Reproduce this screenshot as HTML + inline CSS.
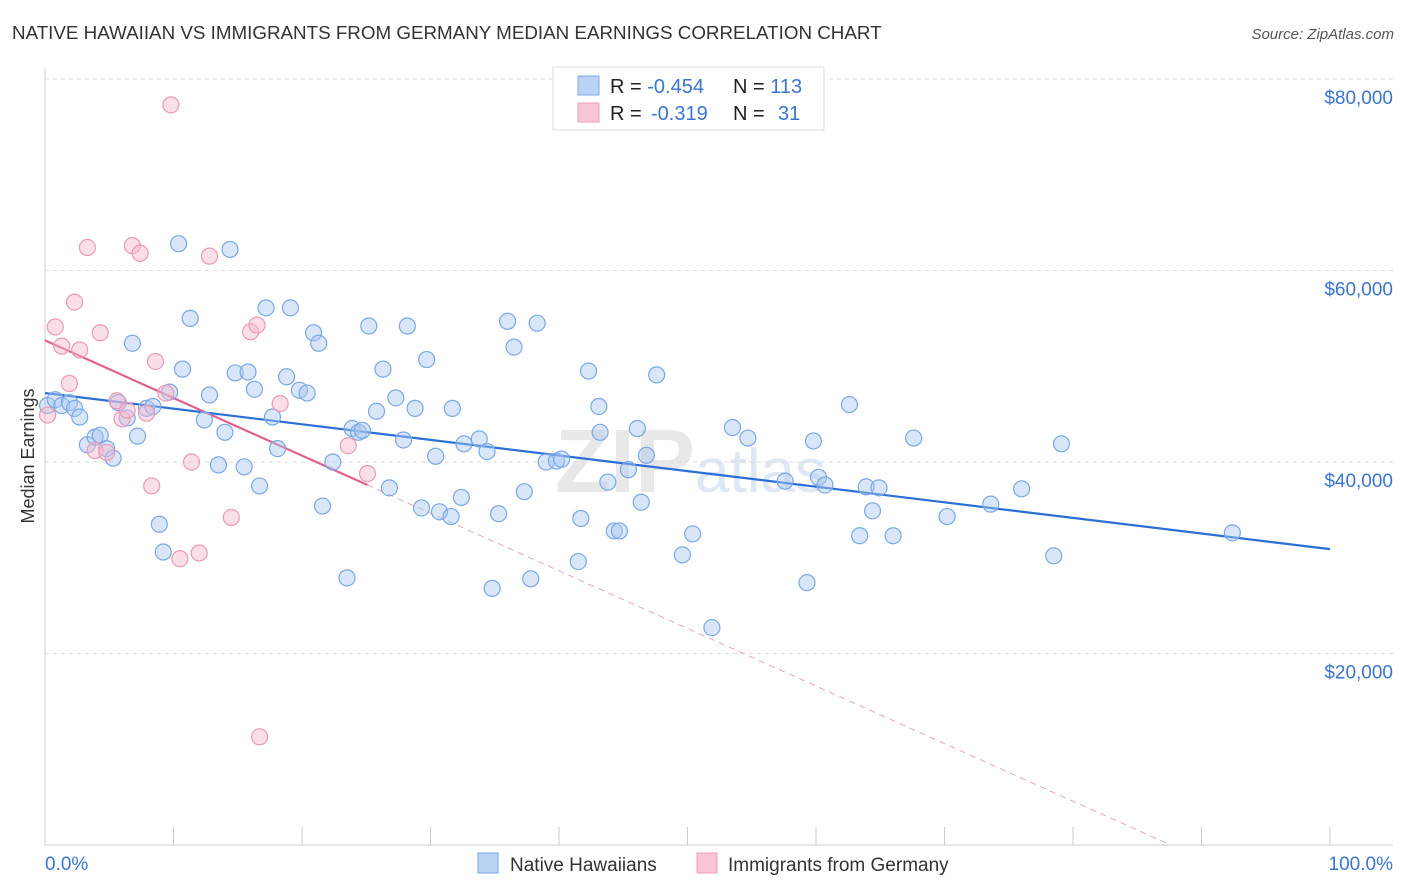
<!DOCTYPE html>
<html><head><meta charset="utf-8"><style>
body{margin:0;background:#fff;font-family:"Liberation Sans",sans-serif}
svg{display:block}
</style></head><body>
<svg id="chart" width="1406" height="892">
<text x="12" y="39" font-size="18.8" fill="#333">NATIVE HAWAIIAN VS IMMIGRANTS FROM GERMANY MEDIAN EARNINGS CORRELATION CHART</text>
<text x="1394" y="39" font-size="15" fill="#555" font-style="italic" text-anchor="end">Source: ZipAtlas.com</text>
<text x="555" y="492" font-size="90" fill="#e8e8e8" font-weight="bold">ZIP<tspan font-size="62" fill="#dde8f4" font-weight="normal">atlas</tspan></text>
<text transform="translate(34,456) rotate(-90)" font-size="18" fill="#333" text-anchor="middle">Median Earnings</text>
<g id="grid"></g><g id="axes"></g><g id="lines"></g><g id="pts"></g>
<g>
<rect x="553" y="67" width="271" height="63" fill="#fff" stroke="#ddd"/>
<rect x="578" y="76" width="21" height="19" fill="#b9d3f5" stroke="#7aa8e6"/>
<rect x="578" y="103" width="21" height="19" fill="#f9c6d6" stroke="#eba0b8"/>
<text x="610" y="93" font-size="20" fill="#222">R = <tspan fill="#3a75d0">-0.454</tspan><tspan x="733">N = </tspan><tspan fill="#3a75d0">113</tspan></text>
<text x="610" y="120" font-size="20" fill="#222">R = <tspan x="651" fill="#3a75d0">-0.319</tspan><tspan x="733">N = </tspan><tspan x="778" fill="#3a75d0">31</tspan></text>
</g>
<g>
<rect x="478" y="853" width="20" height="20" fill="#b9d3f5" stroke="#7aa8e6"/>
<text x="510" y="871" font-size="19" fill="#333">Native Hawaiians</text>
<rect x="697" y="853" width="20" height="20" fill="#f9c6d6" stroke="#eba0b8"/>
<text x="728" y="871" font-size="19" fill="#333">Immigrants from Germany</text>
</g>
</svg>
<script>
const blueX=[0.2,0.8,1.3,1.9,2.3,2.7,3.3,3.9,4.3,4.8,5.3,5.7,6.4,6.8,7.2,7.9,8.4,8.9,9.2,9.7,10.4,10.7,11.3,12.4,12.8,13.5,14.0,14.4,14.8,15.5,15.8,16.3,16.7,17.2,17.7,18.1,18.8,19.1,19.8,20.4,20.9,21.3,21.6,22.4,23.5,23.9,24.4,24.7,25.2,25.8,26.3,26.8,27.3,27.9,28.2,28.8,29.3,29.7,30.4,30.7,31.6,31.7,32.4,32.6,33.8,34.4,34.8,35.3,36.0,36.5,37.3,37.8,38.3,39.0,39.8,40.2,41.5,41.7,42.3,43.1,43.2,43.8,44.3,44.7,45.4,46.1,46.4,46.8,47.6,49.6,50.4,51.9,53.5,54.7,57.6,59.3,59.8,60.2,60.7,62.6,63.4,63.9,64.4,64.9,66.0,67.6,70.2,73.6,76.0,78.5,79.1,92.4];
const blueY=[45.9,46.5,45.9,46.2,45.6,44.7,41.8,42.6,42.8,41.4,40.4,46.2,44.6,52.4,42.7,45.6,45.8,33.5,30.6,47.3,62.8,49.7,55.0,44.4,47.0,39.7,43.1,62.2,49.3,39.5,49.4,47.6,37.5,56.1,44.7,41.4,48.9,56.1,47.5,47.2,53.5,52.4,35.4,40.0,27.9,43.5,43.1,43.3,54.2,45.3,49.7,37.3,46.7,42.3,54.2,45.6,35.2,50.7,40.6,34.8,34.3,45.6,36.3,41.9,42.4,41.1,26.8,34.6,54.7,52.0,36.9,27.8,54.5,40.0,40.1,40.3,29.6,34.1,49.5,45.8,43.1,37.9,32.8,32.8,39.2,43.5,35.8,40.7,49.1,30.3,32.5,22.7,43.6,42.5,38.0,27.4,42.2,38.4,37.6,46.0,32.3,37.4,34.9,37.3,32.3,42.5,34.3,35.6,37.2,30.2,41.9,32.6];
const pinkX=[0.2,0.8,1.3,1.9,2.3,2.7,3.3,3.9,4.3,4.8,5.6,6.0,6.4,6.8,7.4,7.9,8.3,8.6,9.4,9.8,10.5,11.4,12.0,12.8,14.5,16.0,16.5,16.7,18.3,23.6,25.1];
const pinkY=[44.9,54.1,52.1,48.2,56.7,51.7,62.4,41.2,53.5,41.0,46.4,44.5,45.4,62.6,61.8,45.1,37.5,50.5,47.2,77.3,29.9,40.0,30.5,61.5,34.2,53.6,54.3,11.3,46.1,41.7,38.8];
const yTicks=[20000,40000,60000,80000];
const yTickLabels=["$20,000","$40,000","$60,000","$80,000"];
const blueLine=[47.2,30.9];
const pinkLine=[52.7,37.6,25.1];
const NS="http://www.w3.org/2000/svg";
const X=v=>45+v*12.85, Y=v=>845-v/20000*191.5;
function mk(t,a,p){const e=document.createElementNS(NS,t);for(const k in a)e.setAttribute(k,a[k]);p.appendChild(e);return e;}
const grid=document.getElementById('grid'),axes=document.getElementById('axes'),lines=document.getElementById('lines'),pts=document.getElementById('pts');
yTicks.forEach((t,i)=>{
 const l=mk('line',{x1:45,x2:1393,y1:Y(t),y2:Y(t),stroke:'#ddd','stroke-dasharray':'4,4'},grid);
 
 
 const tx=mk('text',{x:1393,y:Y(t)+25,'font-size':19,fill:'#3a75d0','text-anchor':'end'},axes);
 tx.textContent=yTickLabels[i];
 
 
});
mk('line',{x1:45,x2:45,y1:68,y2:845,stroke:'#ccc'},axes);
mk('line',{x1:45,x2:1393,y1:845,y2:845,stroke:'#ccc'},axes);
for(let i=0;i<=10;i++){const t=mk('line',{x1:X(i*10),x2:X(i*10),y1:827,y2:845,stroke:'#ccc'},axes);
 
 }
const x0=mk('text',{x:45,y:870,'font-size':19,fill:'#3a75d0'},axes);x0.textContent='0.0%';


const x1=mk('text',{x:1393,y:870,'font-size':19,fill:'#3a75d0','text-anchor':'end'},axes);x1.textContent='100.0%';


blueX.forEach((x,i)=>{const c=mk('circle',{cx:X(x),cy:Y(blueY[i]*1000),r:8,fill:'rgba(168,200,240,0.45)',stroke:'#7aa8e6','stroke-width':1.2},pts);
 
 });
pinkX.forEach((x,i)=>{const c=mk('circle',{cx:X(x),cy:Y(pinkY[i]*1000),r:8,fill:'rgba(246,184,204,0.45)',stroke:'#eb9ab4','stroke-width':1.2},pts);
 
 });
const bl=mk('line',{x1:X(0),y1:Y(blueLine[0]*1000),x2:X(100),y2:Y(blueLine[1]*1000),stroke:'#2a6fd6','stroke-width':2.2},lines);


const slope=(pinkLine[1]-pinkLine[0])/pinkLine[2];
const xz=-pinkLine[0]/slope;
const pd=mk('line',{x1:X(pinkLine[2]),y1:Y(pinkLine[1]*1000),x2:X(xz),y2:Y(0),stroke:'#e8a0b8','stroke-width':1,'stroke-dasharray':'6,5'},lines);


const pl=mk('line',{x1:X(0),y1:Y(pinkLine[0]*1000),x2:X(pinkLine[2]),y2:Y(pinkLine[1]*1000),stroke:'#e0608c','stroke-width':2.2},lines);


</script>
</body></html>
